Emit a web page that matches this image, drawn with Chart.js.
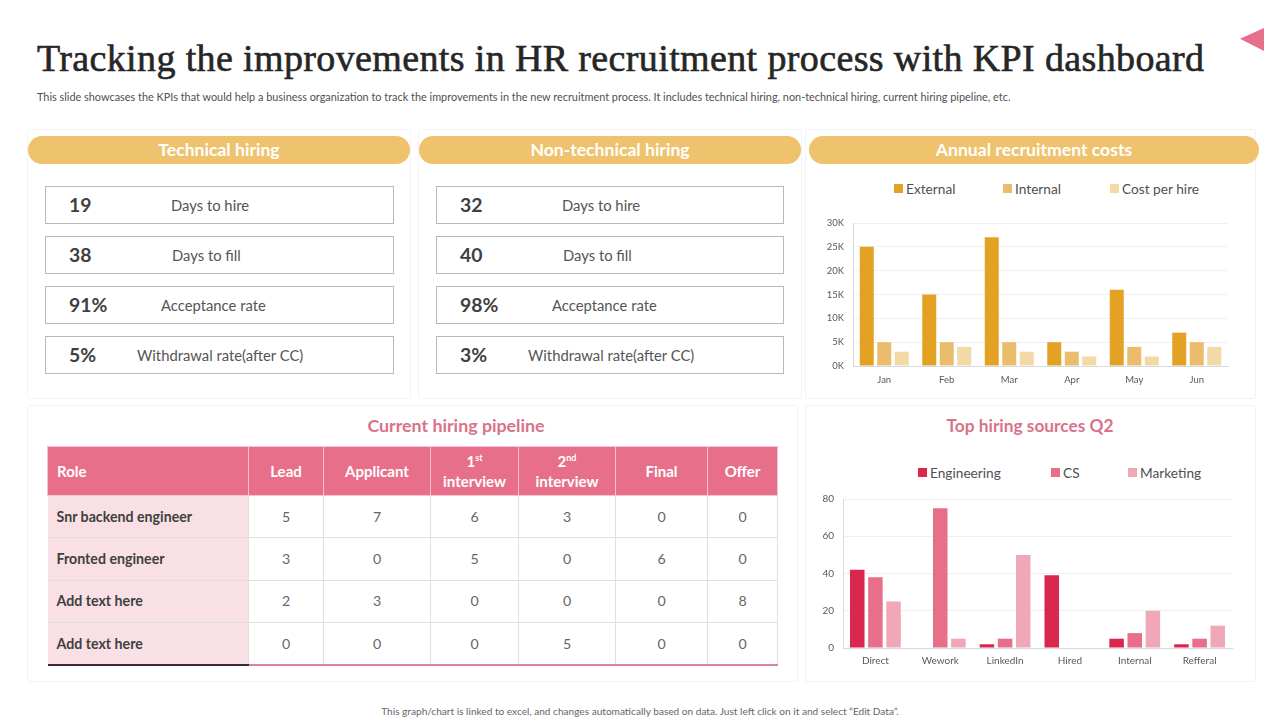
<!DOCTYPE html>
<html>
<head>
<meta charset="utf-8">
<title>KPI dashboard</title>
<script src="https://cdn.jsdelivr.net/npm/chart.js@4"></script>
<style>
  html, body { margin: 0; padding: 0; background: #fff; }
  body { width: 1280px; height: 720px; position: relative; overflow: hidden; font-family: Lato, "Noto Sans", sans-serif; color: #404040; }
  .abs { position: absolute; }
  #title { left: 37px; top: 35px; font: 400 38px/46px "Liberation Serif", serif; letter-spacing: 0.37px; color: #262626; white-space: nowrap; -webkit-text-stroke: 0.6px #262626; }
  #subtitle { left: 37px; top: 90px; font-size: 10.9px; line-height: 14px; color: #505050; white-space: nowrap; }
  #footer { left: 0; width: 1280px; top: 704px; text-align: center; font-size: 10.1px; line-height: 14px; color: #666; }
  #corner { left: 1240px; top: 28px; width: 24px; height: 23px; background: #E76F8A; clip-path: polygon(100% 0, 100% 100%, 0 47%); }
  .card { border: 1px solid #f2f3f4; box-sizing: border-box; border-radius: 3px; }
  .banner { height: 28px; border-radius: 14px; background: #EFC26E; color: #fff; font-weight: 700; font-size: 17.6px; line-height: 28px; text-align: center; }
  .kpi { height: 38px; border: 1px solid #b8b8b8; box-sizing: border-box; }
  .kpi b { position: absolute; left: 23px; top: 7px; font-size: 19.4px; line-height: 22px; color: #404040; }
  .kpi span { position: absolute; top: 9px; font-size: 14.8px; line-height: 18px; color: #555; white-space: nowrap; }
  .pinkhead { color: #D9728A; font-weight: 700; font-size: 17.8px; line-height: 22px; text-align: center; }
  table { position: absolute; left: 47px; top: 446px; width: 730px; border-collapse: collapse; table-layout: fixed; font-size: 14.2px; }
  th { background: #E76F8A; color: #fff; font-weight: 700; font-size: 15px; height: 49px; padding: 0 0 1px; border: 1px solid #f3c3cf; line-height: 20px; text-align: center; box-sizing: border-box; }
  th:first-child, td:first-child { text-align: left; padding-left: 9px; }
  th sup { font-size: 9px; line-height: 0; }
  td { height: 42.4px; padding: 0 0 1px; text-align: center; border: 1px solid #e0e0e0; color: #666; box-sizing: border-box; }
  td:first-child { background: #F9E0E5; font-weight: 700; color: #404040; border-left: none; }
  tr:last-child td { border-bottom: 2px solid #D98699; }
  tr:last-child td:first-child { border-bottom: 2px solid #3c2a3c; }
  .legend i { position: absolute; width: 9px; height: 9px; }
  .legend span { position: absolute; font-size: 13.7px; line-height: 18px; color: #505050; white-space: nowrap; }
  canvas { position: absolute; }
</style>
</head>
<body>
<div class="abs" id="title">Tracking the improvements in HR recruitment process with KPI dashboard</div>
<div class="abs" id="subtitle">This slide showcases the KPIs that would help a business organization to track the improvements in the new recruitment process. It includes technical hiring, non-technical hiring, current hiring pipeline, etc.</div>
<div class="abs" id="corner"></div>

<div class="abs card" style="left:27px;top:129px;width:384px;height:270px"></div>
<div class="abs card" style="left:418px;top:129px;width:384px;height:270px"></div>
<div class="abs card" style="left:805px;top:129px;width:451px;height:270px"></div>
<div class="abs card" style="left:27px;top:405px;width:771px;height:277px"></div>
<div class="abs card" style="left:805px;top:405px;width:451px;height:277px"></div>

<div class="abs banner" style="left:28px;top:136px;width:382px">Technical hiring</div>
<div class="abs banner" style="left:419px;top:136px;width:382px">Non-technical hiring</div>
<div class="abs banner" style="left:809px;top:136px;width:450px">Annual recruitment costs</div>

<div id="kpis"></div>

<div class="abs pinkhead" style="left:27px;top:414px;width:858px">Current hiring pipeline</div>
<div class="abs pinkhead" style="left:805px;top:415px;width:450px;font-size:17.3px">Top hiring sources Q2</div>
<table id="pipeline"></table>

<div class="legend" id="costLegend"></div>
<div class="legend" id="sourceLegend"></div>
<canvas id="costChart" style="left:805px;top:205px;width:450px;height:190px"></canvas>
<canvas id="sourceChart" style="left:805px;top:481px;width:450px;height:196px"></canvas>

<div class="abs" id="footer">This graph/chart is linked to excel, and changes automatically based on data. Just left click on it and select “Edit Data”.</div>

<script>
// kpi boxes
const kpiLabels = ['Days to hire', 'Days to fill', 'Acceptance rate', 'Withdrawal rate(after CC)'];
const technicalKpis = ['19', '38', '91%', '5%'];
const nonTechnicalKpis = ['32', '40', '98%', '3%'];

// pipeline table
const pipelineHeaders = ['Role', 'Lead', 'Applicant', '1<sup>st</sup><br>interview', '2<sup>nd</sup><br>interview', 'Final', 'Offer'];
const pipelineColumns = [201, 75, 107, 88, 97, 92, 70];
const pipelineRoles = ['Snr backend engineer', 'Fronted engineer', 'Add text here', 'Add text here'];
const pipelineLead = [5, 3, 2, 0];
const pipelineApplicant = [7, 0, 3, 0];
const pipelineFirst = [6, 5, 0, 0];
const pipelineSecond = [3, 0, 0, 5];
const pipelineFinal = [0, 6, 0, 0];
const pipelineOffer = [0, 0, 8, 0];

// annual recruitment costs
const months = ['Jan', 'Feb', 'Mar', 'Apr', 'May', 'Jun'];
const external = [25000, 15000, 27000, 5000, 16000, 7000];
const internal = [5000, 5000, 5000, 3000, 4000, 5000];
const costPerHire = [3000, 4000, 3000, 2000, 2000, 4000];

// top hiring sources
const sources = ['Direct', 'Wework', 'LinkedIn', 'Hired', 'Internal', 'Refferal'];
const engineering = [42, 0, 2, 39, 5, 2];
const cs = [38, 75, 5, 0, 8, 5];
const marketing = [25, 5, 50, 0, 20, 12];

function addKpis(values, left, width) {
  const holder = document.getElementById('kpis');
  const labelLefts = [125, 126, 115, 91];
  values.forEach((v, i) => {
    const box = document.createElement('div');
    box.className = 'abs kpi';
    box.style.cssText = `left:${left}px;top:${186 + i * 50}px;width:${width}px`;
    box.innerHTML = `<b>${v}</b><span style="left:${labelLefts[i]}px">${kpiLabels[i]}</span>`;
    holder.appendChild(box);
  });
}
addKpis(technicalKpis, 45, 349);
addKpis(nonTechnicalKpis, 436, 348);

const pipelineTable = document.getElementById('pipeline');
let tableHtml = '<colgroup>' + pipelineColumns.map(w => `<col style="width:${w}px">`).join('') + '</colgroup>';
tableHtml += '<tr>' + pipelineHeaders.map(h => `<th>${h}</th>`).join('') + '</tr>';
pipelineRoles.forEach((role, i) => {
  const cells = [pipelineLead[i], pipelineApplicant[i], pipelineFirst[i], pipelineSecond[i], pipelineFinal[i], pipelineOffer[i]];
  tableHtml += `<tr><td>${role}</td>` + cells.map(c => `<td>${c}</td>`).join('') + '</tr>';
});
pipelineTable.innerHTML = tableHtml;

function addLegend(id, datasets, lefts, top) {
  const holder = document.getElementById(id);
  datasets.forEach((ds, i) => {
    holder.innerHTML += `<i style="left:${lefts[i]}px;top:${top + 4}px;background:${ds.backgroundColor}"></i>` +
      `<span style="left:${lefts[i] + 12}px;top:${top}px">${ds.label}</span>`;
  });
}

function barChart(id, labels, datasets, yOpts, padding, yWidth, xHeight, tickSize, xPad) {
  return new Chart(document.getElementById(id), {
    type: 'bar',
    data: { labels, datasets },
    options: {
      responsive: false,
      animation: false,
      layout: { padding },
      plugins: { legend: { display: false }, tooltip: { enabled: false } },
      datasets: { bar: { categoryPercentage: 0.84, barPercentage: 0.8 } },
      scales: {
        x: {
          grid: { display: false, drawTicks: false },
          border: { color: '#d5dbe0' },
          ticks: { color: '#595959', font: { family: 'Lato', size: tickSize }, padding: xPad },
          afterFit: s => { s.height = xHeight; }
        },
        y: Object.assign({
          min: 0,
          grid: { color: '#eef0f2', drawTicks: false },
          border: { color: '#d5dbe0' },
          afterFit: s => { s.width = yWidth; }
        }, yOpts)
      }
    }
  });
}

const sizeCanvas = (id, w, h) => { const c = document.getElementById(id); c.width = w; c.height = h; };
sizeCanvas('costChart', 450, 190);
sizeCanvas('sourceChart', 450, 196);

const costSets = [
  { label: 'External', data: external, backgroundColor: '#E3A224' },
  { label: 'Internal', data: internal, backgroundColor: '#EBBC6C' },
  { label: 'Cost per hire', data: costPerHire, backgroundColor: '#F2D9A6' }
];
const sourceSets = [
  { label: 'Engineering', data: engineering, backgroundColor: '#D9274E' },
  { label: 'CS', data: cs, backgroundColor: '#E76F8A' },
  { label: 'Marketing', data: marketing, backgroundColor: '#F0A8B8' }
];

addLegend('costLegend', costSets, [894, 1003, 1110], 180);
addLegend('sourceLegend', sourceSets, [918, 1051, 1128], 464);

barChart('costChart', months, costSets, {
  max: 30000,
  ticks: { stepSize: 5000, color: '#595959', padding: 9, font: { family: 'Lato', size: 9.5 }, callback: v => (v / 1000) + 'K' }
}, { top: 18, right: 27, bottom: 0, left: 0 }, 48, 29, 9.5, 8);

barChart('sourceChart', sources, sourceSets, {
  max: 80,
  ticks: { stepSize: 20, color: '#595959', padding: 9, font: { family: 'Lato', size: 10 } }
}, { top: 18, right: 23, bottom: 0, left: 0 }, 38, 29, 10, 7);
</script>
</body>
</html>
